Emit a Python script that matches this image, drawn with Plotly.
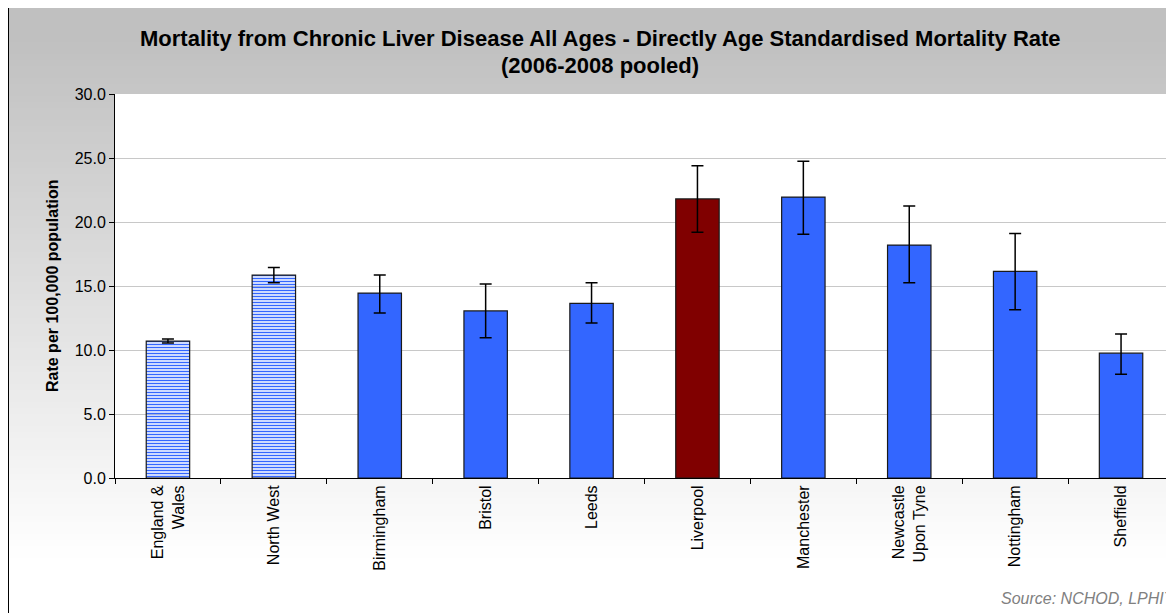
import plotly.graph_objects as go

categories = ["England &<br>Wales", "North West", "Birmingham", "Bristol", "Leeds",
              "Liverpool", "Manchester", "Newcastle<br>Upon Tyne", "Nottingham", "Sheffield"]
rate = [10.7, 15.85, 14.45, 13.05, 13.65, 21.8, 21.95, 18.2, 16.15, 9.75]
upper_ci = [10.85, 16.45, 15.85, 15.15, 15.25, 24.4, 24.75, 21.25, 19.1, 11.25]
lower_ci = [10.55, 15.25, 12.9, 10.95, 12.1, 19.2, 19.05, 15.25, 13.15, 8.1]
bar_colors = ["#3366FF", "#3366FF", "#3366FF", "#3366FF", "#3366FF",
              "#800000", "#3366FF", "#3366FF", "#3366FF", "#3366FF"]
hatched = [True, True, False, False, False, False, False, False, False, False]
y_ticks = [0, 5, 10, 15, 20, 25, 30]

OFF = 8  # page body margin
PAGE_W, PAGE_H = 1174, 613
W, H = PAGE_W - OFF, PAGE_H - OFF
PL, PR, PT, PB = 115, 1174, 94, 478
ML, MR, MT, MB = PL - OFF, PAGE_W - PR, PT - OFF, PAGE_H - PB
PW, PH = W - ML - MR, H - MT - MB


def px(x):
    return (x - OFF - ML) / PW


def py(y):
    return (H - MB - (y - OFF)) / PH


err_plus = [u - r for u, r in zip(upper_ci, rate)]
err_minus = [r - l for r, l in zip(rate, lower_ci)]

fig = go.Figure()
fig.add_trace(go.Bar(
    x=categories, y=rate,
    marker=dict(
        color=bar_colors,
        line=dict(color="#1a1a1a", width=1.2),
        pattern=dict(
            shape=["-" if h else "" for h in hatched],
            fgcolor="#3D6DFF", bgcolor="#BFD0FF", fgopacity=1,
            size=3, solidity=0.5, fillmode="replace"),
    ),
    error_y=dict(type="data", symmetric=False, array=err_plus, arrayminus=err_minus,
                 color="black", thickness=1.5, width=6),
    showlegend=False,
))

shapes = []


def gray_at(mid):
    if mid <= 40:
        g = 192
    elif mid >= 560:
        g = 255
    else:
        g = 192 + (255 - 192) * (mid - 40) / 520
    g = int(round(g))
    return "rgb(%d,%d,%d)" % (g, g, g)


step = 6
for y0 in range(0, PAGE_H + step, step):
    y1 = y0 + step
    col = gray_at((y0 + y1) / 2)
    shapes.append(dict(type="rect", xref="paper", yref="paper",
                       x0=px(OFF), x1=px(PAGE_W + 5), y0=py(y0), y1=py(y1 + 1),
                       fillcolor=col, line=dict(width=0), layer="below"))
# white plot area (data-referenced, clipped to the plot area, beneath gridlines)
n_cat = len(categories)
shapes.append(dict(type="rect", xref="x", yref="y",
                   x0=-0.5, x1=n_cat - 0.5, y0=0, y1=30,
                   fillcolor="white", line=dict(width=0), layer="below"))
# chart border
shapes.append(dict(type="rect", xref="paper", yref="paper",
                   x0=px(8.5), x1=px(PAGE_W + 20), y0=py(7.5), y1=py(PAGE_H + 20),
                   fillcolor="rgba(0,0,0,0)", line=dict(color="black", width=1), layer="below"))

annotations = [
    dict(text="<b>Mortality from Chronic Liver Disease All Ages - Directly Age Standardised Mortality Rate</b>",
         xref="paper", yref="paper", x=px(600), y=py(38), showarrow=False,
         xanchor="center", yanchor="middle", font=dict(size=22, color="black")),
    dict(text="<b>(2006-2008 pooled)</b>",
         xref="paper", yref="paper", x=px(600), y=py(66), showarrow=False,
         xanchor="center", yanchor="middle", font=dict(size=22, color="black")),
    dict(text="<b>Rate per 100,000 population</b>", textangle=-90,
         xref="paper", yref="paper", x=px(52), y=0.5, showarrow=False,
         xanchor="center", yanchor="middle", font=dict(size=16, color="black")),
    dict(text="<i>Source: NCHOD, LPHIT</i>",
         xref="paper", yref="paper", x=px(999), y=py(598), showarrow=False,
         xanchor="left", yanchor="middle", font=dict(size=16, color="#808080")),
]

fig.update_layout(
    width=W, height=H,
    margin=dict(l=ML, r=MR, t=MT, b=MB, autoexpand=False),
    paper_bgcolor="#FEFEFE", plot_bgcolor="white",
    font=dict(family="Liberation Sans, Arial, sans-serif", color="black"),
    bargap=0.59,
    shapes=shapes,
    annotations=annotations,
    xaxis=dict(showline=True, linecolor="black", linewidth=1, ticks="outside",
               tickson="boundaries", ticklen=5, tickcolor="black", tickangle=-90,
               tickfont=dict(size=16), showgrid=False),
    yaxis=dict(range=[0, 30], tickvals=y_ticks, tickformat=".1f",
               showline=True, linecolor="black", linewidth=1, ticks="outside",
               ticklen=5, tickcolor="black", tickfont=dict(size=16),
               showgrid=True, gridcolor="#C8C8C8", gridwidth=1, zeroline=False),
)

fig.write_html("out.html")
